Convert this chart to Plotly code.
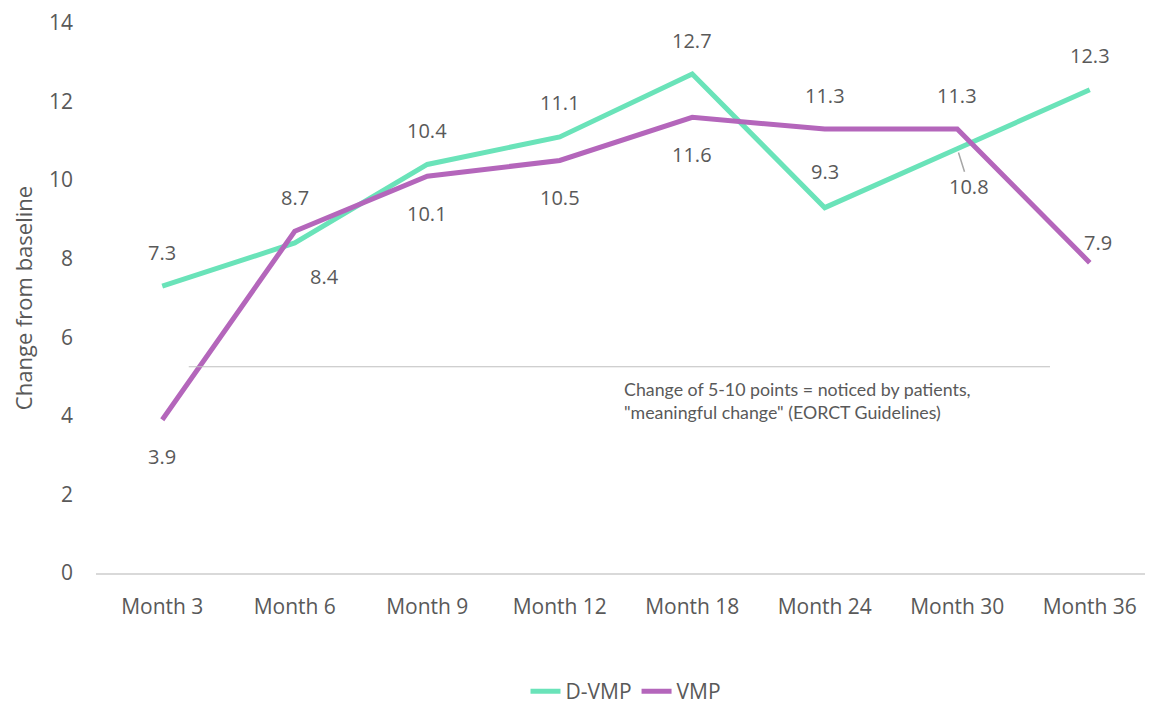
import plotly.graph_objects as go

months = ["Month 3", "Month 6", "Month 9", "Month 12", "Month 18", "Month 24", "Month 30", "Month 36"]
d_vmp = [7.3, 8.4, 10.4, 11.1, 12.7, 9.3, 10.8, 12.3]
vmp = [3.9, 8.7, 10.1, 10.5, 11.6, 11.3, 11.3, 7.9]

# label offsets (pixels) per point
d_vmp_shift = [(0, 34), (30, -33), (0, 34), (0, 34), (0, 34), (0, 36), (0, 0), (0, 34)]
vmp_shift = [(0, -37), (0, 34), (0, -37), (0, -37), (0, -37), (0, 34), (0, 34), (8, 20)]

GREEN = "#6ae3b9"
PURPLE = "#b466bb"
TXT = "#595959"
FONT = "Open Sans"
LBL = 20

fig = go.Figure()
fig.add_trace(go.Scatter(x=months, y=d_vmp, mode="lines", name="D-VMP",
                         line=dict(color=GREEN, width=5)))
fig.add_trace(go.Scatter(x=months, y=vmp, mode="lines", name="VMP",
                         line=dict(color=PURPLE, width=5)))

ann = []
for i, (m, v) in enumerate(zip(months, d_vmp)):
    if m == "Month 30":
        ann.append(dict(x=m, y=v, text=f"{v}", showarrow=True, arrowhead=0,
                        arrowcolor="#a6a6a6", arrowwidth=1.5, ax=12, ay=38, standoff=4,
                        font=dict(size=LBL, color=TXT, family=FONT)))
        continue
    dx, dy = d_vmp_shift[i]
    ann.append(dict(x=m, y=v, text=f"{v}", showarrow=False, xshift=dx, yshift=dy,
                    font=dict(size=LBL, color=TXT, family=FONT)))
for i, (m, v) in enumerate(zip(months, vmp)):
    dx, dy = vmp_shift[i]
    ann.append(dict(x=m, y=v, text=f"{v}", showarrow=False, xshift=dx, yshift=dy,
                    font=dict(size=LBL, color=TXT, family=FONT)))

ann.append(dict(x=3.5, y=5.25, xref="x", yref="y", xanchor="left", yanchor="top",
                align="left", showarrow=False, xshift=-4, yshift=-9,
                text="Change of 5-10 points = noticed by patients,<br>\"meaningful change\" (EORCT Guidelines)",
                font=dict(size=17.8, color=TXT, family="Lato")))

fig.update_layout(
    width=1153, height=704,
    margin=dict(l=88, r=5, t=15, b=139),
    paper_bgcolor="white", plot_bgcolor="white",
    showlegend=True,
    legend=dict(orientation="h", x=0.5, xanchor="center", yref="container", y=0.0,
                yanchor="bottom", font=dict(size=21, color=TXT, family=FONT)),
    annotations=ann,
    shapes=[dict(type="line", xref="x", yref="y", x0=0.2, x1=6.7, y0=5.25, y1=5.25,
                 line=dict(color="#bfbfbf", width=1))],
    font=dict(family=FONT, color=TXT),
)
fig.update_xaxes(range=[-0.5, 7.5], automargin=False, showgrid=False, showline=True,
                 linecolor="#d9d9d9", linewidth=2, ticks="",
                 tickfont=dict(size=21, color=TXT, family=FONT), ticklabelstandoff=14)
fig.update_yaxes(range=[0, 14], dtick=2, automargin=False, showgrid=False, zeroline=False,
                 showline=False, tickfont=dict(size=21, color=TXT, family=FONT),
                 ticklabelstandoff=22, ticklabeloverflow="allow",
                 title=dict(text="Change from baseline", font=dict(size=22, color=TXT, family=FONT),
                            standoff=14))

fig.write_html("out.html")
